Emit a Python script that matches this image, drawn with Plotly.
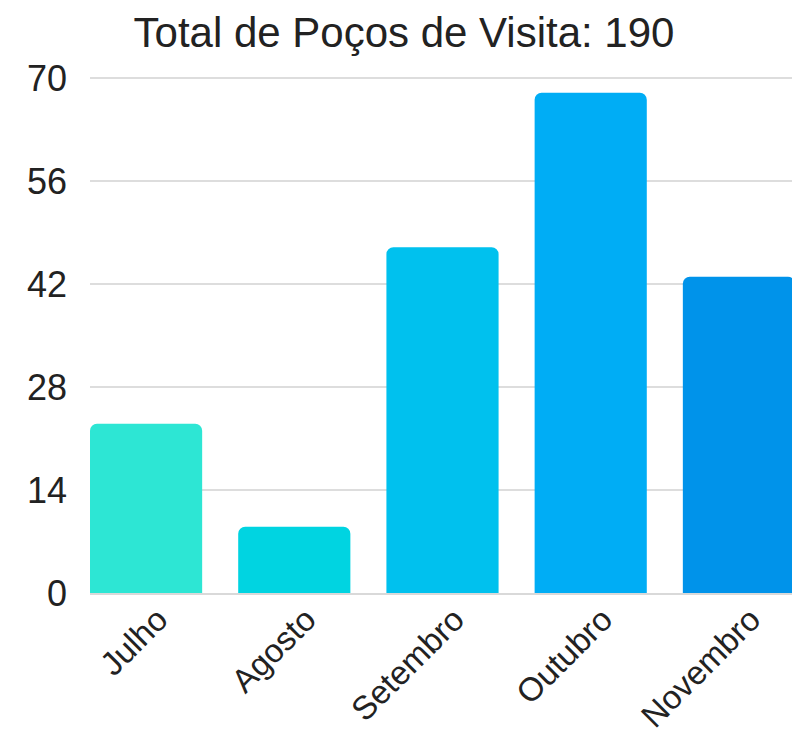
import plotly.graph_objects as go

months = ["Julho", "Agosto", "Setembro", "Outubro", "Novembro"]
counts = [23, 9, 47, 68, 43]
colors = ["#2DE6D4", "#00D4E1", "#00C1EE", "#00ADF5", "#0093EA"]
y_ticks = [0, 14, 28, 42, 56, 70]

frac = 112 / 148
fig = go.Figure(go.Bar(
    x=months, y=counts, marker=dict(color=colors, cornerradius=7, line=dict(width=0)),
    width=frac,
))
fig.update_layout(
    width=792, height=729,
    margin=dict(l=82, r=5, t=69, b=144, autoexpand=False),
    paper_bgcolor="white", plot_bgcolor="white",
    font=dict(family="Liberation Sans, Arial, sans-serif", color="#222222"),
    title=dict(text="Total de Poços de Visita: " + str(sum(counts)), x=0.5, xanchor="center",
               y=0.966, yanchor="middle", font=dict(size=42, color="#222222")),
    showlegend=False,
    bargap=1 - frac,
)
fig.update_xaxes(range=[-0.5 + (1 - frac) / 2, 4.5 - (1 - frac) / 2], tickangle=-45,
                 tickfont=dict(size=33, color="#222222"), showgrid=False, automargin=False,
                 showline=True, linecolor="#d9d9d9", linewidth=2, ticks="",
                 ticklabelshift=12, ticklabelstandoff=-8)
fig.update_yaxes(range=[0, 70.15], tickvals=y_ticks, tickfont=dict(size=36, color="#222222"),
                 showgrid=True, gridcolor="#dddddd", gridwidth=2, zeroline=False, automargin=False,
                 ticks="", ticklabelstandoff=22)
fig.write_html("out.html")
